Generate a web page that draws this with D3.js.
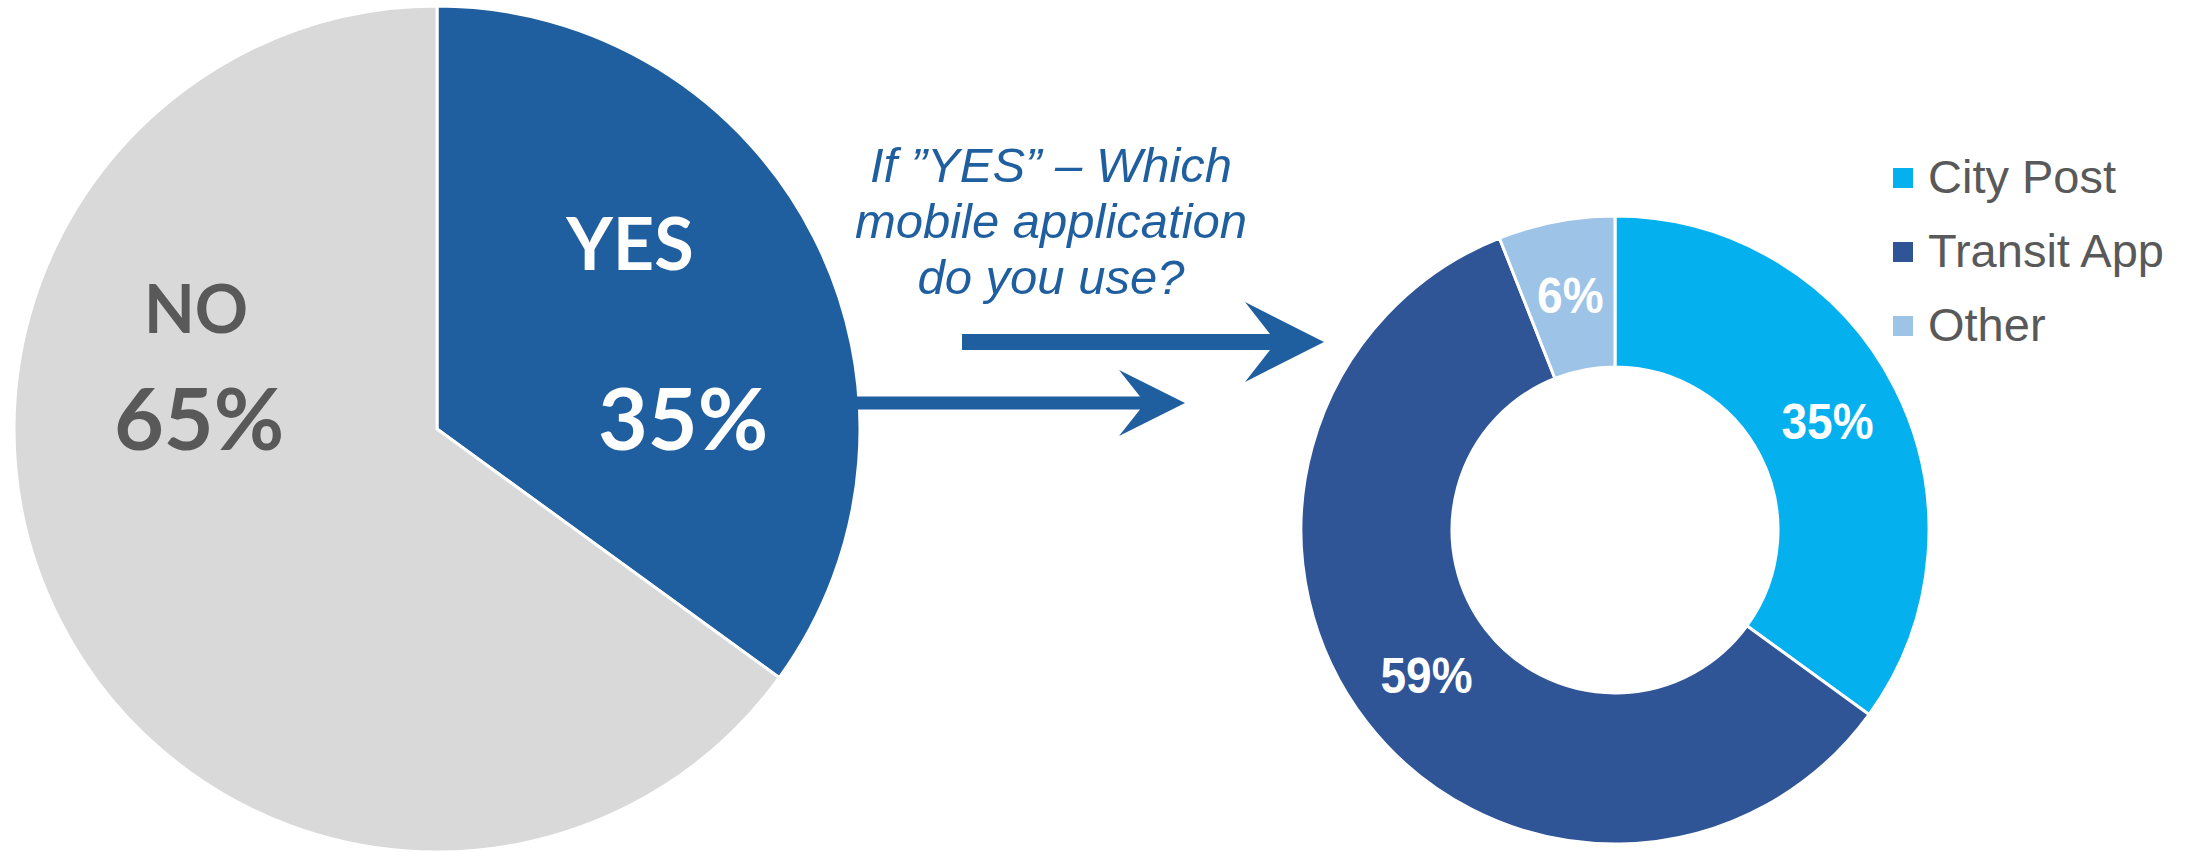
<!DOCTYPE html>
<meta charset="utf-8">
<style>
body { margin: 0; background: #fff; }
.pie-label { font-family: Lato, "Noto Sans", sans-serif; font-weight: bold; text-anchor: middle; }
.donut-label { font-family: "Liberation Sans Narrow", "Liberation Sans", sans-serif; font-weight: bold; fill: #fff; text-anchor: middle; dominant-baseline: central; }
.legend text { font-family: "Liberation Sans", Arial, sans-serif; font-size: 47px; fill: #595959; }
.question { font-family: "Liberation Sans", Arial, sans-serif; font-style: italic; font-size: 49px; fill: #1F5F9F; text-anchor: middle; }
</style>
<body>
<script src="https://d3js.org/d3.v7.min.js"></script>
<script>

width = 2201;
height = 853;

// first question: do you use a mobile app?
answers = ["YES", "NO"];
answerShare = [35, 65];
answerColors = ["#1F5F9F", "#D9D9D9"];

// follow-up: which app
apps = ["City Post", "Transit App", "Other"];
appShare = [35, 59, 6];
appColors = ["#05B0EF", "#2F5597", "#9DC3E6"];

questionLines = ["If \u201DYES\u201D \u2013 Which", "mobile application", "do you use?"];

var svg = d3.select("body").append("svg")
    .attr("width", width)
    .attr("height", height)

pie = d3.pie().sort(null).value(d => d);

// big pie on the left
pieCenter = [437, 429];
pieR = 423;

pieArc = d3.arc().innerRadius(0).outerRadius(pieR);

pieG = svg.append("g").attr("transform", `translate(${pieCenter})`);

pieG.selectAll("path")
  .data(pie(answerShare))
  .join("path")
    .attr("d", pieArc)
    .attr("fill", (d, i) => answerColors[i])
    .attr("stroke", "#fff")
    .attr("stroke-width", 3)
    .attr("stroke-linejoin", "miter")

// labels were placed by hand in the original
pieLabels = [
  {name: answers[0], pct: answerShare[0], nx: 193, ny: -159, px: 246, py: 21, color: "#fff"},
  {name: answers[1], pct: answerShare[1], nx: -241, ny: -96, px: -238, py: 21, color: "#595959"}
];

pieLabels.forEach(l => {
  pieG.append("text").attr("class", "pie-label")
    .attr("x", l.nx).attr("y", l.ny)
    .style("font-size", l.name == "YES" ? "72px" : "66px")
    .attr("fill", l.color)
    .text(l.name)
  pieG.append("text").attr("class", "pie-label")
    .attr("x", l.px).attr("y", l.py)
    .style("font-size", "86px")
    .attr("fill", l.color)
    .text(l.pct + "%")
})

// arrows
function arrow(x0, x1, y, half, headBack, headHalf, tip) {
  return [[x0, y - half], [x1, y - half], [x1 - headBack, y - headHalf], [tip, y],
          [x1 - headBack, y + headHalf], [x1, y + half], [x0, y + half]];
}
svg.append("polygon")
  .attr("points", arrow(962, 1270, 342, 8, 25, 40, 1324).join(" "))
  .attr("fill", "#1F5F9F")
svg.append("polygon")
  .attr("points", arrow(856, 1140, 403, 6.5, 21, 33, 1185).join(" "))
  .attr("fill", "#1F5F9F")

svg.append("text").attr("class", "question")
  .selectAll("tspan")
  .data(questionLines)
  .join("tspan")
    .attr("x", 1051)
    .attr("y", (d, i) => 182 + i * 56)
    .text(d => d)

// donut on the right
donutCenter = [1615, 530];
donutArc = d3.arc().innerRadius(163).outerRadius(314);

donutG = svg.append("g").attr("transform", `translate(${donutCenter})`);

donutData = pie(appShare);

donutG.selectAll("path")
  .data(donutData)
  .join("path")
    .attr("d", donutArc)
    .attr("fill", (d, i) => appColors[i])
    .attr("stroke", "#fff")
    .attr("stroke-width", 3)

donutG.selectAll("text")
  .data(donutData)
  .join("text")
    .attr("class", "donut-label")
    .attr("transform", d => `translate(${donutArc.centroid(d)}) scale(0.92,1)`)
    .style("font-size", "50px")
    .text(d => d.data + "%")

// legend
legend = svg.append("g").attr("class", "legend")
  .selectAll("g")
  .data(apps)
  .join("g")
    .attr("transform", (d, i) => `translate(1893, ${168 + i * 74})`)

legend.append("rect")
  .attr("width", 20).attr("height", 20)
  .attr("fill", (d, i) => appColors[i])

legend.append("text")
  .attr("x", 35).attr("y", 25)
  .text(d => d)

</script>
